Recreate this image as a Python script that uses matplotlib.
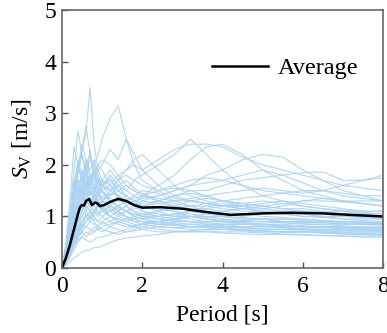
import matplotlib
matplotlib.use("Agg")
import matplotlib.pyplot as plt
import numpy as np

plt.rcParams['font.family'] = ['Liberation Serif', 'DejaVu Serif']
plt.rcParams['mathtext.fontset'] = 'custom'
plt.rcParams['mathtext.rm'] = 'Liberation Serif'
plt.rcParams['mathtext.it'] = 'Liberation Serif:italic'

# periods [s]
period = [0, 0.1, 0.2, 0.3, 0.4, 0.5, 0.6, 0.7, 0.8, 0.9, 1.0, 1.2, 1.4, 1.6, 1.8,
          2.0, 2.4, 2.8, 3.2, 3.6, 4.0, 4.5, 5.0, 5.5, 6.0, 6.5, 7.0, 7.5, 8.0]

# velocity spectra of each record [m/s]
r01 = [0, 0.3, 0.7, 1.3, 1.9, 2.3, 2.6, 3.5, 2.4, 1.9, 1.7, 1.5, 1.4, 1.2, 1.1, 1.05, 1.0, 0.95, 0.9, 0.85, 0.85, 0.8, 0.8, 0.78, 0.76, 0.75, 0.74, 0.73, 0.72]
r02 = [0, 0.2, 0.5, 0.9, 1.3, 1.6, 1.9, 2.1, 2.0, 2.2, 2.5, 2.9, 3.15, 2.5, 2.0, 1.7, 1.5, 1.35, 1.3, 1.25, 1.2, 1.15, 1.1, 1.1, 1.05, 1.0, 1.0, 0.98, 0.95]
r03 = [0, 0.4, 1.1, 1.9, 2.65, 2.2, 1.8, 1.6, 1.9, 1.7, 1.5, 1.3, 1.2, 1.1, 1.0, 0.95, 0.9, 0.85, 0.8, 0.8, 0.78, 0.75, 0.72, 0.7, 0.7, 0.68, 0.66, 0.65, 0.65]
r04 = [0, 0.3, 0.9, 1.5, 2.0, 2.3, 2.75, 2.2, 1.8, 2.0, 1.9, 1.6, 1.4, 1.3, 1.25, 1.2, 1.1, 1.0, 0.95, 0.9, 0.9, 0.88, 0.85, 0.85, 0.82, 0.8, 0.8, 0.78, 0.78]
r05 = [0, 0.2, 0.6, 1.0, 1.3, 1.5, 1.6, 1.8, 1.7, 1.9, 2.0, 2.3, 2.1, 2.5, 2.2, 1.9, 1.6, 1.4, 1.3, 1.25, 1.2, 1.15, 1.1, 1.05, 1.0, 1.0, 0.95, 0.92, 0.9]
r06 = [0, 0.15, 0.4, 0.7, 0.9, 1.1, 1.3, 1.2, 1.4, 1.5, 1.3, 1.4, 1.6, 1.5, 1.7, 1.8, 2.0, 2.2, 2.5, 2.2, 1.9, 1.6, 1.4, 1.3, 1.2, 1.15, 1.1, 1.05, 1.0]
r07 = [0, 0.1, 0.3, 0.5, 0.7, 0.8, 1.0, 1.1, 1.0, 1.2, 1.3, 1.2, 1.4, 1.3, 1.2, 1.4, 1.6, 1.8, 2.1, 2.35, 2.4, 2.2, 1.9, 1.7, 1.5, 1.4, 1.3, 1.25, 1.2]
r08 = [0, 0.2, 0.5, 0.8, 1.1, 1.3, 1.5, 1.6, 1.5, 1.7, 1.6, 1.5, 1.7, 1.9, 2.0, 1.9, 2.1, 2.3, 2.4, 2.4, 2.35, 2.15, 2.0, 1.9, 1.8, 1.7, 1.6, 1.55, 1.5]
r09 = [0, 0.1, 0.3, 0.5, 0.7, 0.9, 1.0, 0.9, 1.1, 1.0, 1.2, 1.3, 1.2, 1.1, 1.2, 1.3, 1.4, 1.5, 1.6, 1.8, 1.9, 2.1, 2.2, 2.15, 1.9, 1.7, 1.5, 1.4, 1.3]
r10 = [0, 0.15, 0.4, 0.8, 1.0, 1.2, 1.1, 1.3, 1.2, 1.4, 1.3, 1.2, 1.1, 1.2, 1.3, 1.2, 1.3, 1.4, 1.5, 1.5, 1.6, 1.7, 1.75, 1.8, 1.85, 1.86, 1.7, 1.7, 1.8]
r11 = [0, 0.05, 0.12, 0.2, 0.25, 0.3, 0.35, 0.35, 0.4, 0.4, 0.42, 0.5, 0.55, 0.58, 0.6, 0.62, 0.65, 0.7, 0.7, 0.72, 0.7, 0.7, 0.68, 0.66, 0.65, 0.63, 0.62, 0.6, 0.6]
r12 = [0, 0.1, 0.3, 0.5, 0.6, 0.7, 0.6, 0.7, 0.8, 0.75, 0.7, 0.8, 0.9, 0.85, 0.8, 0.85, 0.9, 0.95, 1.0, 0.95, 0.9, 0.85, 0.85, 0.8, 0.8, 0.78, 0.76, 0.75, 0.75]
r13 = [0, 0.25, 0.7, 1.2, 1.5, 1.9, 1.6, 1.4, 1.5, 1.3, 1.2, 1.1, 1.0, 0.95, 0.9, 0.9, 0.85, 0.85, 0.8, 0.78, 0.75, 0.74, 0.72, 0.7, 0.7, 0.7, 0.68, 0.67, 0.66]
r14 = [0, 0.3, 0.8, 1.4, 1.7, 1.5, 2.0, 1.8, 1.6, 1.4, 1.5, 1.6, 1.4, 1.3, 1.2, 1.1, 1.0, 1.05, 1.1, 1.05, 1.0, 0.95, 0.95, 0.9, 0.9, 0.88, 0.85, 0.85, 0.85]
r15 = [0, 0.5, 1.3, 2.35, 2.0, 1.7, 1.9, 1.6, 1.4, 1.3, 1.2, 1.0, 0.95, 0.9, 0.85, 0.8, 0.75, 0.72, 0.7, 0.7, 0.68, 0.66, 0.65, 0.65, 0.64, 0.63, 0.62, 0.62, 0.62]
r16 = [0, 0.2, 0.6, 1.0, 1.4, 1.7, 2.0, 2.2, 1.9, 1.6, 1.7, 1.9, 1.7, 1.5, 1.4, 1.3, 1.25, 1.2, 1.15, 1.1, 1.05, 1.0, 1.05, 1.1, 1.1, 1.05, 1.0, 1.0, 0.98]
r17 = [0, 0.15, 0.45, 0.7, 0.9, 1.0, 1.2, 1.1, 1.0, 0.9, 1.0, 1.1, 1.2, 1.3, 1.4, 1.5, 1.45, 1.3, 1.2, 1.1, 1.0, 0.95, 0.95, 0.9, 0.9, 0.9, 0.88, 0.86, 0.85]
r18 = [0, 0.2, 0.5, 0.8, 1.1, 1.4, 1.2, 1.1, 1.3, 1.5, 1.7, 1.6, 1.8, 1.9, 2.1, 2.2, 1.9, 1.6, 1.4, 1.3, 1.2, 1.2, 1.15, 1.1, 1.1, 1.05, 1.0, 1.0, 1.0]
r19 = [0, 0.1, 0.25, 0.4, 0.6, 0.7, 0.8, 0.9, 0.85, 0.8, 0.9, 1.0, 0.95, 0.9, 0.95, 1.0, 1.1, 1.2, 1.3, 1.35, 1.3, 1.25, 1.2, 1.15, 1.1, 1.1, 1.05, 1.05, 1.05]
r20 = [0, 0.3, 0.9, 1.6, 2.1, 1.8, 1.5, 1.7, 2.0, 1.8, 1.5, 1.3, 1.2, 1.1, 1.0, 0.95, 0.9, 0.88, 0.85, 0.85, 0.82, 0.8, 0.8, 0.78, 0.76, 0.75, 0.74, 0.73, 0.72]
r21 = [0, 0.2, 0.5, 0.9, 1.2, 1.4, 1.5, 1.3, 1.2, 1.1, 1.0, 0.9, 0.85, 0.8, 0.82, 0.85, 0.9, 0.95, 1.0, 1.05, 1.1, 1.15, 1.2, 1.25, 1.3, 1.3, 1.28, 1.25, 1.2]
r22 = [0, 0.15, 0.35, 0.6, 0.8, 1.0, 1.1, 1.0, 0.9, 0.8, 0.75, 0.7, 0.65, 0.7, 0.75, 0.8, 0.85, 0.9, 0.9, 0.88, 0.85, 0.85, 0.85, 0.82, 0.8, 0.8, 0.78, 0.78, 0.78]
r23 = [0, 0.2, 0.55, 0.9, 1.2, 1.5, 1.8, 1.7, 1.9, 2.0, 2.1, 2.0, 1.8, 1.6, 1.5, 1.4, 1.3, 1.25, 1.2, 1.2, 1.15, 1.1, 1.1, 1.05, 1.05, 1.0, 1.0, 0.98, 0.96]
r24 = [0, 0.1, 0.2, 0.35, 0.5, 0.6, 0.7, 0.65, 0.7, 0.75, 0.8, 0.85, 0.9, 0.95, 1.0, 1.05, 1.1, 1.15, 1.2, 1.25, 1.3, 1.35, 1.4, 1.45, 1.5, 1.5, 1.45, 1.4, 1.4]
r25 = [0, 0.25, 0.7, 1.1, 1.3, 1.6, 1.4, 1.5, 1.3, 1.2, 1.1, 1.2, 1.1, 1.0, 0.95, 0.9, 0.9, 0.95, 1.0, 1.0, 0.95, 0.9, 0.9, 0.88, 0.86, 0.85, 0.85, 0.84, 0.83]
r26 = [0, 0.3, 0.8, 1.3, 1.8, 2.2, 1.9, 1.7, 1.5, 1.7, 1.6, 1.4, 1.5, 1.6, 1.5, 1.4, 1.35, 1.3, 1.3, 1.25, 1.2, 1.2, 1.25, 1.3, 1.25, 1.2, 1.15, 1.1, 1.1]
r27 = [0, 0.15, 0.4, 0.6, 0.9, 1.1, 1.3, 1.5, 1.4, 1.3, 1.4, 1.2, 1.1, 1.0, 0.9, 0.85, 0.8, 0.78, 0.75, 0.75, 0.75, 0.74, 0.72, 0.7, 0.7, 0.7, 0.68, 0.68, 0.68]
r28 = [0, 0.2, 0.5, 0.8, 1.0, 1.2, 1.3, 1.2, 1.1, 1.25, 1.3, 1.5, 1.7, 1.8, 1.7, 1.6, 1.5, 1.6, 1.7, 1.75, 1.7, 1.6, 1.5, 1.45, 1.4, 1.35, 1.3, 1.3, 1.3]
r29 = [0, 0.1, 0.3, 0.45, 0.55, 0.6, 0.55, 0.5, 0.55, 0.6, 0.6, 0.65, 0.7, 0.75, 0.8, 0.85, 0.8, 0.78, 0.8, 0.82, 0.85, 0.85, 0.82, 0.8, 0.8, 0.8, 0.8, 0.78, 0.78]
r30 = [0, 0.35, 1.0, 1.5, 1.9, 2.4, 2.1, 1.9, 2.1, 1.8, 1.6, 1.7, 1.5, 1.4, 1.3, 1.2, 1.15, 1.1, 1.05, 1.0, 1.0, 0.98, 0.95, 0.95, 0.92, 0.9, 0.9, 0.88, 0.88]
r31 = [0, 0.2, 0.5, 0.7, 0.8, 0.9, 1.0, 1.05, 1.1, 1.2, 1.15, 1.1, 1.2, 1.3, 1.35, 1.4, 1.5, 1.55, 1.5, 1.4, 1.3, 1.2, 1.15, 1.2, 1.3, 1.35, 1.3, 1.25, 1.2]
r32 = [0, 0.1, 0.3, 0.5, 0.65, 0.8, 0.9, 1.0, 0.95, 0.9, 0.85, 0.9, 1.0, 1.1, 1.15, 1.2, 1.25, 1.3, 1.35, 1.4, 1.45, 1.5, 1.55, 1.5, 1.45, 1.5, 1.6, 1.7, 1.75]
r33 = [0, 0.25, 0.6, 1.0, 1.3, 1.4, 1.6, 1.8, 1.7, 1.5, 1.3, 1.2, 1.15, 1.1, 1.05, 1.0, 0.95, 0.92, 0.9, 0.9, 0.9, 0.92, 0.95, 0.95, 0.95, 0.92, 0.9, 0.9, 0.88]
r34 = [0, 0.3, 0.8, 1.3, 1.7, 1.5, 1.3, 1.2, 1.1, 1.05, 1.1, 1.0, 0.9, 0.85, 0.8, 0.75, 0.7, 0.7, 0.72, 0.75, 0.75, 0.72, 0.7, 0.7, 0.7, 0.68, 0.66, 0.65, 0.64]
r35 = [0, 0.15, 0.4, 0.7, 1.0, 1.2, 1.4, 1.6, 1.8, 1.65, 1.5, 1.35, 1.3, 1.25, 1.3, 1.35, 1.4, 1.5, 1.6, 1.65, 1.7, 1.8, 1.9, 1.8, 1.65, 1.5, 1.4, 1.35, 1.3]
r36 = [0, 0.2, 0.5, 0.9, 1.25, 1.55, 1.35, 1.25, 1.45, 1.6, 1.45, 1.3, 1.2, 1.1, 1.05, 1.0, 1.0, 1.05, 1.1, 1.15, 1.1, 1.05, 1.0, 0.98, 0.95, 0.92, 0.9, 0.88, 0.86]
r37 = [0, 0.2, 0.6, 1.1, 1.6, 1.4, 1.7, 1.5, 1.3, 1.45, 1.6, 1.75, 1.5, 1.35, 1.2, 1.1, 1.05, 1.0, 1.0, 0.98, 0.95, 0.92, 0.9, 0.9, 0.88, 0.88, 0.86, 0.85, 0.85]
r38 = [0, 0.3, 0.9, 1.7, 1.4, 1.9, 1.6, 2.3, 1.8, 1.5, 1.3, 1.15, 1.05, 1.0, 0.95, 0.9, 0.85, 0.82, 0.8, 0.8, 0.8, 0.78, 0.76, 0.75, 0.74, 0.73, 0.72, 0.72, 0.71]
r39 = [0, 0.1, 0.35, 0.55, 0.75, 0.9, 1.05, 0.95, 1.1, 1.25, 1.15, 1.0, 1.1, 1.2, 1.1, 1.0, 0.95, 1.0, 1.1, 1.2, 1.25, 1.2, 1.1, 1.05, 1.0, 0.98, 0.95, 0.95, 0.95]
r40 = [0, 0.2, 0.45, 0.8, 1.0, 1.3, 1.5, 1.7, 1.55, 1.4, 1.6, 1.8, 1.6, 1.7, 1.55, 1.45, 1.3, 1.2, 1.15, 1.15, 1.2, 1.25, 1.3, 1.25, 1.2, 1.15, 1.12, 1.1, 1.1]
r41 = [0, 0.15, 0.3, 0.5, 0.7, 0.85, 0.8, 0.75, 0.7, 0.8, 0.9, 0.8, 0.75, 0.7, 0.72, 0.75, 0.8, 0.85, 0.85, 0.82, 0.8, 0.78, 0.75, 0.74, 0.74, 0.72, 0.7, 0.7, 0.7]
r42 = [0, 0.25, 0.75, 1.2, 1.5, 1.8, 2.1, 1.8, 1.6, 1.75, 1.6, 1.5, 1.6, 1.4, 1.3, 1.25, 1.3, 1.4, 1.45, 1.4, 1.3, 1.25, 1.2, 1.15, 1.15, 1.1, 1.1, 1.08, 1.05]
r43 = [0, 0.1, 0.25, 0.45, 0.6, 0.75, 0.9, 1.0, 1.1, 1.2, 1.3, 1.45, 1.4, 1.3, 1.25, 1.2, 1.15, 1.1, 1.0, 0.95, 0.9, 0.88, 0.85, 0.82, 0.8, 0.8, 0.78, 0.76, 0.75]
r44 = [0, 0.35, 1.0, 1.6, 2.0, 1.7, 1.5, 1.6, 1.4, 1.2, 1.3, 1.15, 1.05, 1.1, 1.0, 0.95, 1.0, 1.05, 1.0, 0.95, 0.92, 0.9, 0.9, 0.88, 0.85, 0.84, 0.82, 0.8, 0.8]

records = [r01, r02, r03, r04, r05, r06, r07, r08, r09, r10, r11, r12,
           r13, r14, r15, r16, r17, r18, r19, r20, r21, r22, r23, r24,
           r25, r26, r27, r28, r29, r30, r31, r32, r33, r34, r35, r36,
           r37, r38, r39, r40, r41, r42, r43, r44]

# average spectrum
avg_period = [0, 0.1, 0.2, 0.3, 0.4, 0.45, 0.5, 0.55, 0.6, 0.68, 0.75, 0.82, 0.87, 0.95,
              1.05, 1.2, 1.4, 1.6, 1.8, 2.0, 2.45, 3.0, 3.45, 4.2, 5.0, 5.7, 6.5, 7.2, 8.0]
avg_sv = [0, 0.2, 0.45, 0.75, 1.05, 1.18, 1.22, 1.21, 1.3, 1.34, 1.22, 1.27, 1.26, 1.2,
          1.22, 1.28, 1.34, 1.3, 1.22, 1.17, 1.18, 1.15, 1.1, 1.03, 1.06, 1.07, 1.06, 1.03, 1.0]

fig = plt.figure(figsize=(3.87, 3.33), dpi=100)
ax = fig.add_axes([0.160, 0.195, 0.830, 0.775])

for rec in records:
    ax.plot(period, rec, color='#a9d2f3', lw=0.8, alpha=0.9)

ax.plot(avg_period, avg_sv, color='black', lw=1.8, label='Average')

ax.set_xlim(0, 8)
ax.set_ylim(0, 5)
ax.set_xticks([0, 2, 4, 6, 8])
ax.set_yticks([0, 1, 2, 3, 4, 5])
ax.tick_params(direction='in', length=4, width=1, labelsize=17, colors='#555555',
               labelcolor='black')
ax.tick_params(axis='x', pad=6)
ax.tick_params(axis='y', pad=4)
for sp in ax.spines.values():
    sp.set_color('#666666')
    sp.set_linewidth(1.2)

ax.set_xlabel('Period [s]', fontsize=17, labelpad=5)
ax.set_ylabel(r'$S_\mathrm{V}$ [m/s]', fontsize=17, labelpad=8)

ax.legend(loc='center left', bbox_to_anchor=(0.40, 0.775), frameon=False,
          fontsize=17.5, handlelength=2.3, handletextpad=0.4)

fig.savefig('out.png', dpi=100)
